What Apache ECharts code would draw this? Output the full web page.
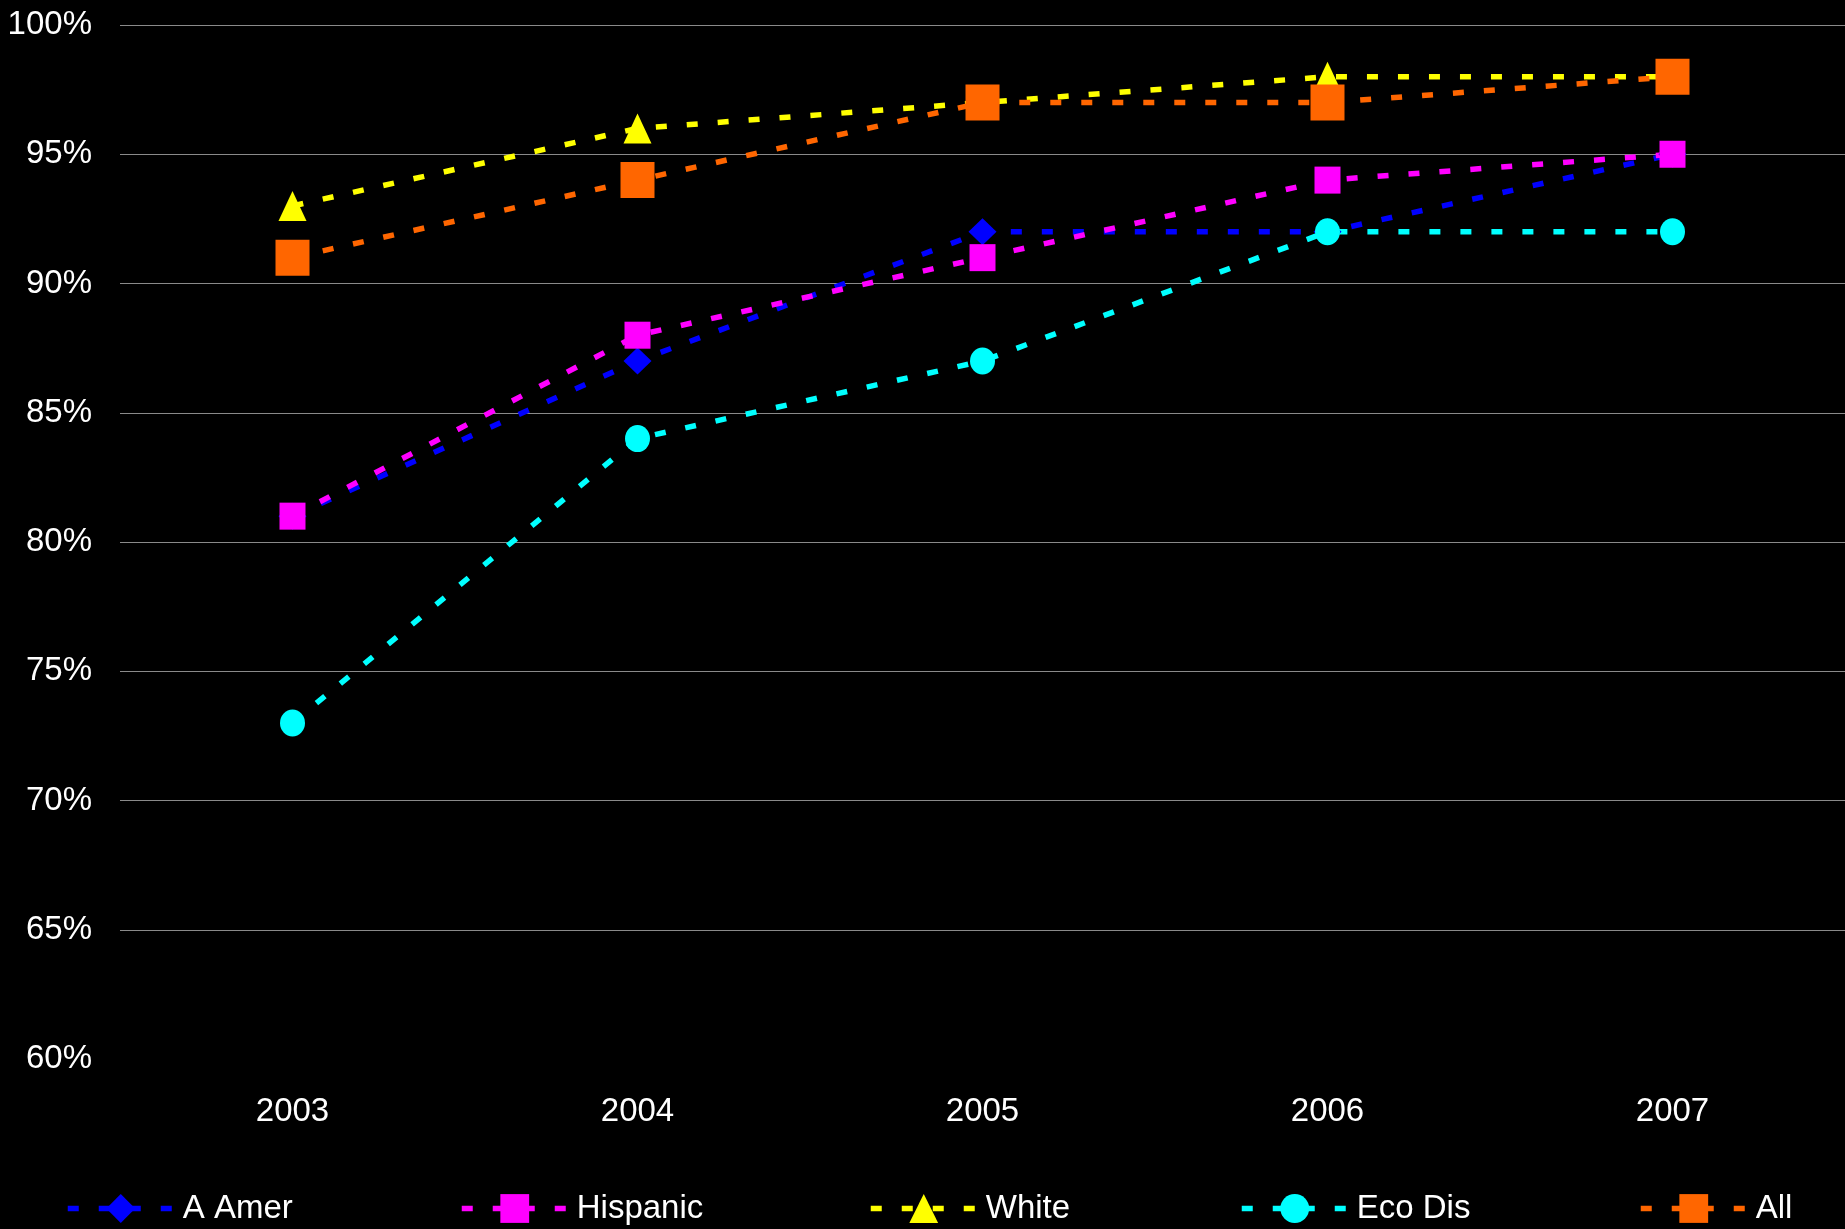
<!DOCTYPE html>
<html>
<head>
<meta charset="utf-8">
<title>Rates by group, 2003–2007</title>
<script src="https://cdn.jsdelivr.net/npm/echarts@6/dist/echarts.min.js"></script>
<style>
  html, body { margin: 0; padding: 0; background: #000; }
  #chart { width: 1845px; height: 1229px; }
</style>
</head>
<body>
<div id="chart"></div>
<script>
// Years on the horizontal axis
const years = ['2003', '2004', '2005', '2006', '2007'];

// Percent values per group
const aAmer    = [81, 87, 92, 92, 95];
const hispanic = [81, 88, 91, 94, 95];
const white    = [93, 96, 97, 98, 98];
const ecoDis   = [73, 84, 87, 92, 92];
const all      = [91, 94, 97, 97, 98];

// Vertical axis range (percent)
const yMin = 60, yMax = 100, yStep = 5;

const FONT = '"Liberation Sans", Arial, sans-serif';
const DASH = [11, 20];

function lineSeries(name, data, color, symbol, size) {
  return {
    name: name,
    type: 'line',
    data: data,
    symbol: symbol,
    symbolSize: size,
    showSymbol: true,
    lineStyle: { color: color, width: 5.5, type: DASH },
    itemStyle: { color: color },
    emphasis: { disabled: true },
    z: 2
  };
}

const series = [
  lineSeries('A Amer',   aAmer,    '#0000FF', 'diamond',  [28, 27]),
  lineSeries('Hispanic', hispanic, '#FF00FF', 'rect',     [26, 27]),
  lineSeries('White',    white,    '#FFFF00', 'triangle', [28, 30]),
  lineSeries('Eco Dis',  ecoDis,   '#00FFFF', 'circle',   [25, 27]),
  lineSeries('All',      all,      '#FF6600', 'rect',     [34, 36])
];

// One legend per entry so each sits at its own horizontal spot
const legendLefts = [65, 459, 868, 1239, 1638];
const legends = series.map((s, i) => ({
  data: [s.name],
  left: legendLefts[i],
  top: 1192,
  padding: 0,
  orient: 'horizontal',
  itemWidth: 106,
  itemHeight: 36,
  selectedMode: false,
  lineStyle: { width: 5.5 },
  textStyle: { color: '#ffffff', fontSize: 33, fontFamily: FONT, padding: [0, 0, 0, 4] }
}));

// Grid lines: none drawn at the bottom (60%) tick
const splitColors = [];
for (let v = yMin; v <= yMax; v += yStep) splitColors.push(v === yMin ? '#000000' : '#8a8a8a');

const chart = echarts.init(document.getElementById('chart'), null, { renderer: 'canvas' });
chart.setOption({
  backgroundColor: '#000000',
  animation: false,
  grid: { left: 120, right: 0, top: 25, bottom: 170, containLabel: false },
  legend: legends,
  xAxis: {
    type: 'category',
    data: years,
    boundaryGap: true,
    axisLine: { show: false },
    axisTick: { show: false },
    axisLabel: { color: '#ffffff', fontSize: 33, fontFamily: FONT, margin: 36 }
  },
  yAxis: {
    type: 'value',
    min: yMin,
    max: yMax,
    interval: yStep,
    axisLine: { show: false },
    axisTick: { show: false },
    splitLine: { show: true, lineStyle: { color: splitColors, width: 1.2 } },
    axisLabel: {
      color: '#ffffff', fontSize: 33, fontFamily: FONT, margin: 28,
      formatter: v => v + '%'
    }
  },
  series: series
});
</script>
</body>
</html>
